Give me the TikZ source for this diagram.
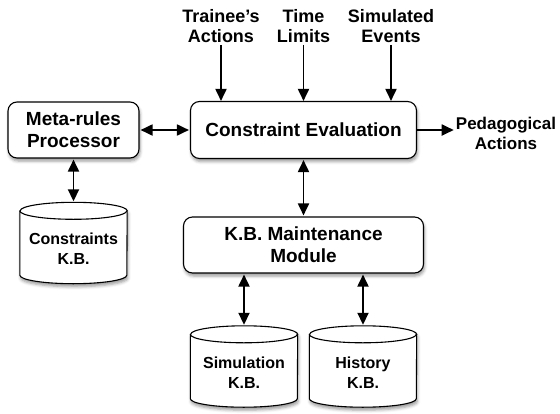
\documentclass[tikz,border=0pt]{standalone}
\usepackage{fontspec}
\setmainfont{Liberation Sans}
\usetikzlibrary{arrows.meta,backgrounds,shadows.blur}

\tikzset{
  box/.style={draw, fill=white, rounded corners=9pt, line width=1.1pt,
    align=center, font=\fontsize{19}{22}\selectfont\bfseries,
    blur shadow={shadow xshift=1pt, shadow yshift=-3pt, shadow blur radius=3pt}},
  kbase/.style={rectangle, inner sep=0pt, minimum width=107pt, minimum height=81pt},
  kbody/.style={draw, fill=white, line width=1.1pt,
    blur shadow={shadow xshift=1pt, shadow yshift=-3pt, shadow blur radius=3pt}},
  kbtext/.style={align=center, font=\fontsize{16}{20}\selectfont\bfseries, yshift=-6pt},
  lbl/.style={align=center, inner sep=2pt, font=\fontsize{18}{20}\selectfont\bfseries},
  arr/.style={line width=1.8pt, -{Triangle[length=12pt,width=11pt]}},
  darr/.style={line width=1.8pt, shorten <=1pt, shorten >=1pt,
    {Triangle[length=12pt,width=11pt]}-{Triangle[length=12pt,width=11pt]}}
}

\begin{document}
\begin{tikzpicture}[x=1pt,y=-1pt]
  \useasboundingbox (0,0) rectangle (560,413);
  % boxes
  \node[box, minimum width=131pt, minimum height=56pt] (meta) at (73.5,130) {Meta-rules\\Processor};
  \node[box, minimum width=226pt, minimum height=57pt] (eval) at (303.5,130) {Constraint Evaluation};
  \node[box, minimum width=240pt, minimum height=56pt] (maint) at (303.5,245) {K.B. Maintenance\\Module};
  % knowledge bases
  \node[kbase, label={[kbtext]center:Constraints\\K.B.}] (ckb) at (73.5,243) {};
  \node[kbase, label={[kbtext]center:Simulation\\K.B.}] (skb) at (244,366.5) {};
  \node[kbase, label={[kbtext]center:History\\K.B.}] (hkb) at (363,366.5) {};
  \begin{scope}[on background layer]
    \foreach \n in {ckb,skb,hkb} {
      \path[kbody] ([yshift=-8.5pt]\n.north west) -- ([yshift=8.5pt]\n.south west)
        arc[start angle=180, end angle=360, x radius=53.5pt, y radius=8.5pt]
        -- ([yshift=-8.5pt]\n.north east)
        arc[start angle=0, end angle=180, x radius=53.5pt, y radius=8.5pt] -- cycle;
      \draw[line width=1.1pt] ([yshift=-8.5pt]\n.north west)
        arc[start angle=180, end angle=360, x radius=53.5pt, y radius=8.5pt];
    }
  \end{scope}
  % inputs and outputs
  \node[lbl] (trainee) at (221,26) {Trainee{\char39}s\\Actions};
  \node[lbl] (limits) at (303.5,26) {Time\\Limits};
  \node[lbl] (events) at (391,26) {Simulated\\Events};
  \node[lbl, font=\fontsize{17}{20}\selectfont\bfseries] (peda) at (506,133) {Pedagogical\\Actions};

  \draw[arr] (trainee.south) -- (trainee.south |- eval.north);
  \draw[arr] (limits) -- (eval);
  \draw[arr] (events.south) -- (events.south |- eval.north);
  \draw[arr] (eval.east) -- (eval.east -| peda.west);
  \draw[darr] (meta) -- (eval);
  \draw[darr] (meta) -- (ckb);
  \draw[darr] (eval) -- (maint);
  \draw[darr] (skb |- maint.south) -- (skb.north);
  \draw[darr] (hkb |- maint.south) -- (hkb.north);
\end{tikzpicture}
\end{document}
